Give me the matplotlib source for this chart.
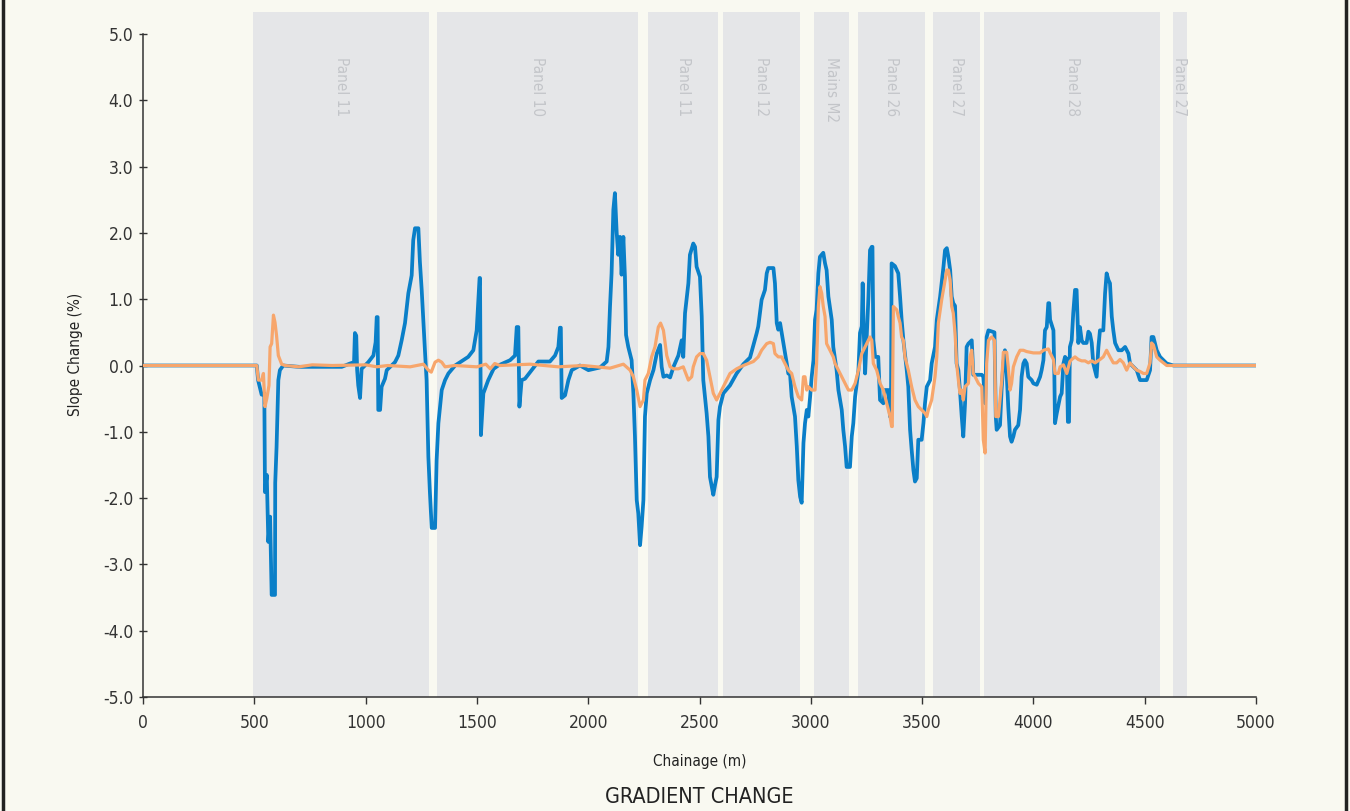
import matplotlib
matplotlib.use("Agg")
import matplotlib.pyplot as plt
from matplotlib.lines import Line2D

plt.rcParams['font.family'] = ['DejaVu Sans']
plt.rcParams['font.stretch'] = 'condensed'

# Panel zones along the chainage (m)
panel_names = ["Panel 11", "Panel 10", "Panel 11", "Panel 12", "Mains M2",
               "Panel 26", "Panel 27", "Panel 28", "Panel 27"]
panel_start = [494, 1321, 2269, 2606, 3014, 3212, 3549, 3778, 4627]
panel_end = [1285, 2224, 2583, 2951, 3172, 3513, 3760, 4569, 4690]

# Slope change - blue series
blue_chainage = [0, 500, 511, 517, 533, 545, 548, 556, 563, 571, 578, 593, 594, 600, 608, 615, 630,
                 700, 800, 893, 930, 948, 952, 958, 962, 967, 975, 982, 1012, 1035, 1045, 1050, 1054,
                 1057, 1065, 1072, 1087, 1095, 1117, 1132, 1147, 1162, 1177, 1192, 1207, 1214, 1222,
                 1237, 1244, 1252, 1259, 1267, 1274, 1282, 1289, 1297, 1312, 1319, 1327, 1342, 1357,
                 1372, 1402, 1461, 1484, 1499, 1512, 1514, 1518, 1529, 1551, 1575, 1596, 1649, 1671,
                 1679, 1686, 1691, 1701, 1716, 1739, 1776, 1828, 1851, 1866, 1873, 1877, 1881, 1896,
                 1911, 1926, 1963, 2001, 2053, 2083, 2091, 2098, 2105, 2113, 2120, 2128, 2135, 2143,
                 2150, 2158, 2165, 2170, 2180, 2195, 2203, 2210, 2218, 2225, 2233, 2240, 2248, 2255,
                 2263, 2278, 2293, 2308, 2323, 2330, 2338, 2353, 2368, 2383, 2405, 2420, 2427, 2435,
                 2450, 2457, 2472, 2480, 2487, 2502, 2510, 2517, 2532, 2540, 2547, 2562, 2570, 2577,
                 2585, 2592, 2607, 2637, 2667, 2697, 2727, 2757, 2764, 2779, 2794, 2802, 2809, 2832,
                 2839, 2847, 2854, 2862, 2877, 2892, 2899, 2907, 2914, 2929, 2937, 2944, 2952, 2959,
                 2967, 2974, 2982, 2989, 2997, 3004, 3012, 3019, 3026, 3034, 3041, 3056, 3064, 3071,
                 3079, 3094, 3101, 3116, 3124, 3139, 3146, 3154, 3161, 3176, 3184, 3191, 3199, 3214,
                 3221, 3229, 3233, 3237, 3244, 3252, 3259, 3266, 3274, 3277, 3281, 3289, 3303, 3311,
                 3326, 3333, 3348, 3356, 3360, 3363, 3378, 3393, 3401, 3408, 3416, 3431, 3438, 3446,
                 3453, 3461, 3468, 3476, 3483, 3498, 3506, 3513, 3521, 3536, 3543, 3558, 3566, 3581,
                 3596, 3603, 3611, 3618, 3626, 3633, 3640, 3648, 3655, 3663, 3670, 3678, 3685, 3693,
                 3700, 3708, 3723, 3730, 3768, 3775, 3783, 3790, 3798, 3825, 3831, 3835, 3850, 3857,
                 3865, 3872, 3880, 3887, 3895, 3902, 3910, 3917, 3932, 3940, 3947, 3955, 3962, 3970,
                 3977, 3992, 4000, 4015, 4030, 4037, 4045, 4052, 4060, 4067, 4071, 4075, 4090, 4094,
                 4097, 4105, 4120, 4127, 4135, 4142, 4150, 4155, 4160, 4164, 4172, 4179, 4187, 4194,
                 4202, 4209, 4217, 4224, 4239, 4247, 4254, 4262, 4269, 4284, 4292, 4299, 4314, 4322,
                 4329, 4337, 4344, 4352, 4359, 4367, 4382, 4397, 4412, 4427, 4434, 4449, 4464, 4479,
                 4509, 4524, 4531, 4539, 4554, 4569, 4584, 4599, 4629, 5000]
blue_slope = [0, 0, 0, -0.22, -0.44, -0.42, -1.91, -1.65, -2.66, -2.28, -3.46, -3.46, -1.77, -1.23, -0.22, -0.07, 0,
              -0.02, -0.02, -0.02, 0.03, 0.05, 0.49, 0.45, -0.07, -0.3, -0.49, -0.05, 0.05, 0.15, 0.35, 0.73, 0.73,
              -0.67, -0.67, -0.32, -0.2, -0.07, 0.0, 0.05, 0.15, 0.38, 0.64, 1.09, 1.36, 1.89, 2.07,
              2.07, 1.56, 1.14, 0.69, 0.2, -0.22, -1.38, -1.92, -2.45, -2.45, -1.43, -0.87, -0.37, -0.22,
              -0.12, 0.0, 0.13, 0.23, 0.53, 1.32, 1.32, -1.05, -0.42, -0.22, -0.05, 0.0, 0.08, 0.15,
              0.58, 0.58, -0.62, -0.22, -0.2, -0.1, 0.06, 0.06, 0.15, 0.28, 0.57, 0.57, -0.49, -0.45,
              -0.22, -0.07, 0.0, -0.07, -0.03, 0.06, 0.28, 0.89, 1.39, 2.35, 2.6, 2.0, 1.67, 1.94,
              1.37, 1.94, 1.34, 0.46, 0.28, 0.08, -0.42, -1.07, -2.03, -2.23, -2.71, -2.43, -2.03, -0.77,
              -0.42, -0.22, -0.07, 0.18, 0.31, -0.02, -0.17, -0.15, -0.18, -0.02, 0.15, 0.38, 0.13, 0.79,
              1.24, 1.67, 1.84, 1.79, 1.49, 1.34, 0.74, -0.22, -0.72, -1.07, -1.68, -1.95, -1.8, -1.68,
              -0.82, -0.62, -0.42, -0.3, -0.12, 0.02, 0.12, 0.49, 0.59, 0.99, 1.14, 1.39, 1.47, 1.47,
              1.24, 0.64, 0.54, 0.64, 0.34, 0.03, -0.12, -0.14, -0.47, -0.77, -1.22, -1.73, -1.98, -2.07,
              -1.17, -0.87, -0.67, -0.77, -0.47, -0.17, 0.08, 0.69, 0.84, 1.39, 1.64, 1.70, 1.54, 1.44,
              1.04, 0.69, 0.28, -0.07, -0.37, -0.67, -0.97, -1.22, -1.53, -1.53, -1.07, -0.87, -0.47, -0.07,
              0.49, 0.59, 1.24, 0.59, -0.12, 0.5, 1.04, 1.74, 1.79, 1.79, 0.38, 0.13, 0.13, -0.52,
              -0.57, -0.37, -0.37, -0.77, -0.77, 1.54, 1.5, 1.39, 1.04, 0.69, 0.38, -0.07, -0.32, -0.97,
              -1.27, -1.58, -1.75, -1.7, -1.12, -1.12, -0.87, -0.57, -0.32, -0.22, 0.03, 0.28, 0.69, 1.04,
              1.49, 1.74, 1.77, 1.64, 1.44, 1.04, 0.94, 0.9, 0.03, -0.07, -0.37, -0.77, -1.07, -0.57,
              0.28, 0.33, 0.38, -0.14, -0.14, -0.17, -0.57, 0.43, 0.53, 0.5, -0.77, -0.97, -0.9, -0.37,
              0.03, 0.23, -0.12, -0.62, -1.07, -1.15, -1.07, -0.97, -0.9, -0.67, -0.17, 0.03, 0.08, 0.03,
              -0.17, -0.22, -0.27, -0.29, -0.17, -0.07, 0.08, 0.53, 0.58, 0.94, 0.94, 0.69, 0.53, -0.12,
              -0.87, -0.72, -0.47, -0.42, 0.03, 0.13, 0.1, -0.85, -0.85, 0.28, 0.38, 0.79, 1.14, 1.14,
              0.34, 0.58, 0.38, 0.34, 0.34, 0.51, 0.48, 0.34, 0.03, -0.17, 0.28, 0.53, 0.53, 1.09,
              1.39, 1.29, 1.24, 0.74, 0.53, 0.34, 0.23, 0.23, 0.28, 0.18, 0.03, -0.02, -0.07, -0.22,
              -0.22, -0.07, 0.43, 0.43, 0.23, 0.13, 0.08, 0.03, 0.0, 0.0]

# Slope change - orange series
orange_chainage = [0, 511, 518, 533, 541, 548, 556, 566, 571, 578, 586, 593, 600, 608, 623, 638,
                   700, 760, 850, 1000, 1050, 1100, 1200, 1260, 1282, 1295, 1312, 1327, 1342, 1357,
                   1400, 1500, 1540, 1560, 1580, 1604, 1739, 1866, 1978, 2098, 2158, 2188, 2203, 2218,
                   2233, 2248, 2255, 2270, 2285, 2300, 2315, 2325, 2338, 2353, 2368, 2383, 2405, 2427,
                   2450, 2465, 2472, 2487, 2502, 2517, 2532, 2547, 2562, 2577, 2592, 2607, 2637, 2667,
                   2697, 2742, 2764, 2779, 2802, 2817, 2832, 2839, 2854, 2869, 2884, 2899, 2914, 2929,
                   2944, 2959, 2967, 2974, 2982, 2989, 3004, 3019, 3026, 3034, 3041, 3049, 3056, 3064,
                   3071, 3086, 3101, 3109, 3124, 3131, 3139, 3154, 3169, 3184, 3199, 3214, 3229, 3244,
                   3259, 3266, 3274, 3281, 3296, 3311, 3326, 3341, 3356, 3363, 3366, 3371, 3386, 3393,
                   3401, 3408, 3416, 3423, 3438, 3453, 3468, 3483, 3498, 3513, 3521, 3528, 3543, 3558,
                   3566, 3573, 3588, 3603, 3611, 3618, 3626, 3633, 3640, 3648, 3655, 3663, 3670, 3678,
                   3685, 3693, 3708, 3715, 3723, 3730, 3738, 3753, 3768, 3775, 3783, 3790, 3798, 3813,
                   3825, 3831, 3843, 3858, 3865, 3880, 3887, 3895, 3902, 3910, 3925, 3940, 3955, 3970,
                   4000, 4030, 4045, 4067, 4075, 4090, 4097, 4112, 4120, 4135, 4150, 4164, 4172, 4187,
                   4202, 4217, 4232, 4247, 4262, 4277, 4299, 4314, 4329, 4344, 4359, 4374, 4389, 4404,
                   4419, 4434, 4449, 4464, 4479, 4494, 4509, 4524, 4531, 4539, 4554, 4569, 4584, 4599,
                   5000]
orange_slope = [0, 0, -0.22, -0.22, -0.12, -0.62, -0.5, -0.3, 0.28, 0.33, 0.76, 0.65, 0.45, 0.15, 0.02, 0.0,
                -0.02, 0.01, 0.0, 0.01, -0.02, 0.0, -0.02, 0.02, -0.07, -0.1, 0.05, 0.08, 0.05, -0.02,
                0.0, -0.02, 0.02, -0.05, 0.03, 0.0, 0.02, -0.02, 0.0, -0.04, 0.02, -0.07, -0.17, -0.37,
                -0.62, -0.52, -0.22, -0.12, 0.13, 0.28, 0.58, 0.64, 0.53, 0.15, -0.02, -0.05, -0.05, -0.02,
                -0.22, -0.17, -0.02, 0.13, 0.18, 0.18, 0.08, -0.17, -0.42, -0.52, -0.42, -0.32, -0.12, -0.05,
                0.0, 0.06, 0.13, 0.23, 0.33, 0.35, 0.33, 0.18, 0.13, 0.13, 0.03, -0.07, -0.12, -0.32,
                -0.47, -0.52, -0.17, -0.17, -0.37, -0.32, -0.37, -0.37, 0.03, 0.89, 1.19, 1.09, 0.89, 0.74,
                0.33, 0.23, 0.13, 0.03, -0.07, -0.12, -0.17, -0.27, -0.37, -0.37, -0.27, -0.07, 0.18, 0.28,
                0.38, 0.43, 0.38, 0.03, -0.07, -0.27, -0.37, -0.57, -0.77, -0.92, -0.92, 0.89, 0.84, 0.74,
                0.64, 0.43, 0.38, 0.13, -0.07, -0.32, -0.52, -0.62, -0.67, -0.72, -0.77, -0.67, -0.52, -0.17,
                0.13, 0.64, 0.99, 1.29, 1.44, 1.44, 1.29, 0.89, 0.79, 0.49, 0.03, -0.22, -0.42, -0.37,
                -0.52, -0.32, -0.27, 0.13, 0.23, -0.12, -0.17, -0.27, -0.32, -1.12, -1.32, 0.03, 0.38, 0.43,
                0.38, -0.77, -0.77, -0.22, 0.2, 0.2, -0.02, -0.37, -0.27, -0.02, 0.13, 0.23, 0.23, 0.21,
                0.19, 0.19, 0.23, 0.25, 0.19, 0.09, -0.12, -0.12, -0.02, 0.01, -0.12, 0.06, 0.09, 0.13,
                0.09, 0.07, 0.07, 0.04, 0.07, 0.04, 0.09, 0.13, 0.23, 0.13, 0.04, 0.04, 0.09, 0.04,
                -0.07, 0.04, -0.02, -0.07, -0.09, -0.12, -0.12, 0.04, 0.34, 0.31, 0.13, 0.08, 0.04, 0.0,
                0]

bg = '#f9f9f1'
fig = plt.figure(figsize=(13.5, 8.11), dpi=100, facecolor=bg)
ax = fig.add_axes([143 / 1350, (811 - 697) / 811, (1256 - 143) / 1350, (697 - 12) / 811])
ax.set_facecolor(bg)

# shaded panel zones with their names at the top
for name, a, b in zip(panel_names, panel_start, panel_end):
    ax.axvspan(a, b, color='#e5e6e8', lw=0, zorder=0)
    ax.text((a + b) / 2, 4.65, name, rotation=270, ha='center', va='top',
            fontsize=11, color='#c3c5c9', zorder=1)

ax.plot(blue_chainage, blue_slope, color='#0a7fc8', lw=2.7, zorder=3)
ax.plot(orange_chainage, orange_slope, color='#f7a66c', lw=2.3, zorder=4)

ax.set_xlim(0, 5000)
ax.set_ylim(-5, 5.332)
ax.set_xticks(range(0, 5001, 500))
ax.set_yticks(range(-5, 6))
ax.set_yticklabels([f"{v:.1f}" for v in range(-5, 6)])

for s in ['top', 'right']:
    ax.spines[s].set_visible(False)
ax.spines['left'].set_bounds(-5, 5)
for s in ['left', 'bottom']:
    ax.spines[s].set_color('#333333')
    ax.spines[s].set_linewidth(1.1)
ax.tick_params(axis='y', direction='inout', length=6, width=1, color='#333333',
               labelsize=12.5, labelcolor='#333333', pad=4)
ax.tick_params(axis='x', direction='out', length=5, width=1, color='#333333',
               labelsize=12.5, labelcolor='#333333', pad=7)

ax.set_xlabel("Chainage (m)", fontsize=11, color='#222222', labelpad=16)
ax.set_ylabel("Slope Change (%)", fontsize=11, color='#222222', labelpad=14)
fig.text(0.518, 0.0173, "GRADIENT CHANGE", ha='center', va='center', fontsize=15.5, color='#222222')

# dark border on both sides of the figure
fig.add_artist(Line2D([0.002, 0.002], [0, 1], transform=fig.transFigure, color='#222222', lw=2.5))
fig.add_artist(Line2D([0.997, 0.997], [0, 1], transform=fig.transFigure, color='#222222', lw=2.5))

fig.savefig("out.png", dpi=100, facecolor=bg)
